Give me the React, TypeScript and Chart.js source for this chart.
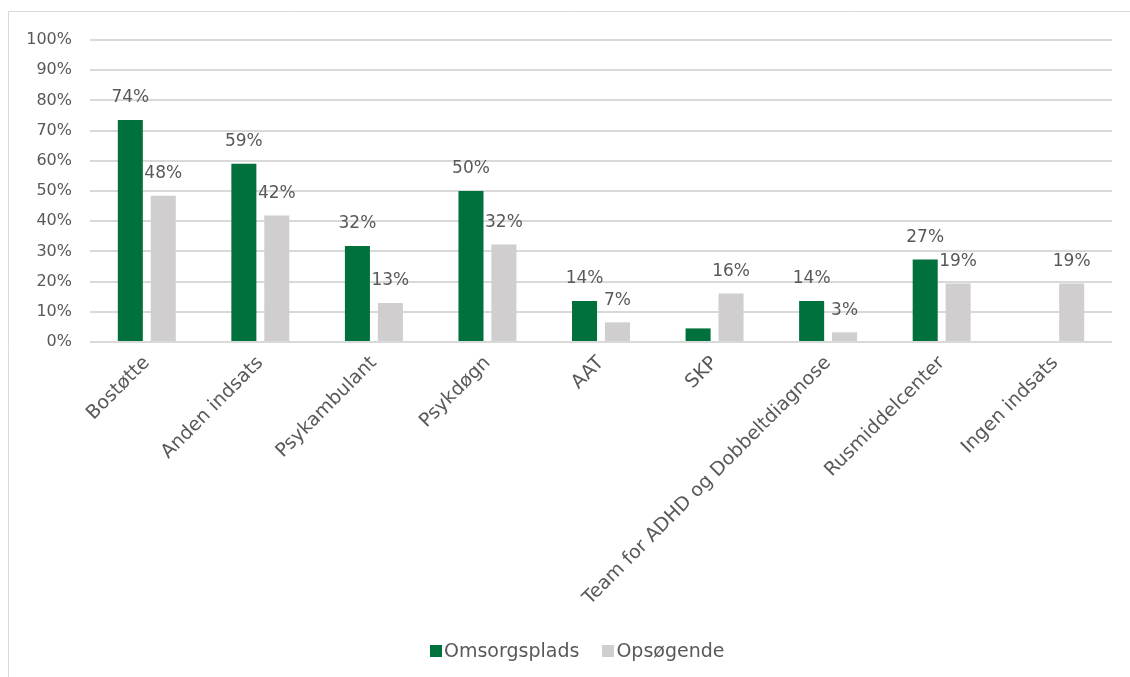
import React, { useEffect, useRef } from "react";
import { Chart, registerables } from "chart.js";

Chart.register(...registerables);

const categories = [
  "Bostøtte",
  "Anden indsats",
  "Psykambulant",
  "Psykdøgn",
  "AAT",
  "SKP",
  "Team for ADHD og Dobbeltdiagnose",
  "Rusmiddelcenter",
  "Ingen indsats",
];
const omsorgsplads = [73.5, 59, 31.8, 50, 13.6, 4.5, 13.6, 27.3, 0];
const opsoegende = [48.4, 41.9, 12.9, 32.3, 6.5, 16.1, 3.2, 19.4, 19.4];
const omsorgspladsLabels = ["74%", "59%", "32%", "50%", "14%", "", "14%", "27%", ""];
const opsoegendeLabels = ["48%", "42%", "13%", "32%", "7%", "16%", "3%", "19%", "19%"];
const yTicks = [0, 10, 20, 30, 40, 50, 60, 70, 80, 90, 100];
const seriesNames = ["Omsorgsplads", "Opsøgende"];

const FONT = "'DejaVu Sans', sans-serif";
const TEXT = "#595959";
const GREEN = "#00703C";
const GRAY = "#D0CECE";
const seriesColors = [GREEN, GRAY];

const framePlugin = {
  id: "frame",
  beforeDraw(chart: any) {
    const ctx = chart.ctx;
    ctx.save();
    ctx.strokeStyle = "#D9D9D9";
    ctx.lineWidth = 1;
    ctx.beginPath();
    ctx.moveTo(0.5, chart.height);
    ctx.lineTo(0.5, 0.5);
    ctx.lineTo(chart.width, 0.5);
    ctx.stroke();
    ctx.restore();
  },
};

const labelPlugin = {
  id: "barLabels",
  afterDatasetsDraw(chart: any) {
    const ctx = chart.ctx;
    const allLabels = [omsorgspladsLabels, opsoegendeLabels];
    ctx.save();
    ctx.font = `17px ${FONT}`;
    ctx.fillStyle = TEXT;
    ctx.textAlign = "center";
    ctx.textBaseline = "middle";
    chart.data.datasets.forEach((_ds: any, di: number) => {
      const meta = chart.getDatasetMeta(di);
      meta.data.forEach((bar: any, i: number) => {
        const txt = allLabels[di][i];
        if (!txt) return;
        ctx.fillText(txt, bar.x, bar.y - 22);
      });
    });
    ctx.restore();
  },
};

export default function App() {
  const ref = useRef<HTMLCanvasElement>(null);
  useEffect(() => {
    document.body.style.overflow = "hidden";
    const chart = new Chart(ref.current!, {
      type: "bar",
      data: {
        labels: categories,
        datasets: [
          {
            label: seriesNames[0],
            data: omsorgsplads,
            backgroundColor: GREEN,
            categoryPercentage: 0.58,
            barPercentage: 0.76,
          },
          {
            label: seriesNames[1],
            data: opsoegende,
            backgroundColor: GRAY,
            categoryPercentage: 0.58,
            barPercentage: 0.76,
          },
        ],
      },
      options: {
        responsive: false,
        animation: false,
        devicePixelRatio: 1,
        layout: { padding: { top: 29, right: 18, bottom: 48, left: 0 } },
        plugins: {
          legend: { display: false },
          tooltip: { enabled: false },
        },
        scales: {
          x: {
            grid: { display: false, drawTicks: false },
            border: { display: false },
            ticks: {
              font: { family: FONT, size: 19 },
              color: TEXT,
              minRotation: 45,
              maxRotation: 45,
              padding: 10,
              autoSkip: false,
            },
            afterFit(scale: any) {
              scale.height = 287;
            },
          },
          y: {
            min: 0,
            max: 100,
            afterBuildTicks(scale: any) {
              scale.ticks = yTicks.map((v) => ({ value: v }));
            },
            grid: { color: "#D9D9D9", lineWidth: 2, drawTicks: false },
            border: { display: false },
            ticks: {
              font: { family: FONT, size: 16 },
              color: TEXT,
              padding: 18,
              callback: (v: any) => `${v}%`,
            },
            afterFit(scale: any) {
              scale.width = 82;
            },
          },
        },
      },
      plugins: [framePlugin, labelPlugin],
    });
    return () => chart.destroy();
  }, []);

  return (
    <>
      <canvas
        ref={ref}
        width={1122}
        height={666}
        style={{ position: "fixed", left: 8, top: 11, display: "block" }}
      />
      <div
        style={{
          position: "fixed",
          left: 430,
          top: 638,
          height: 24,
          display: "flex",
          alignItems: "center",
          fontFamily: FONT,
          fontSize: 19,
          color: TEXT,
          whiteSpace: "nowrap",
        }}
      >
        {seriesNames.map((name, i) => (
          <div
            key={name}
            style={{ display: "flex", alignItems: "center", marginRight: 23 }}
          >
            <span
              style={{
                display: "inline-block",
                width: 12,
                height: 12,
                background: seriesColors[i],
                marginRight: 2,
                marginTop: 1,
              }}
            />
            <span>{name}</span>
          </div>
        ))}
      </div>
    </>
  );
}
